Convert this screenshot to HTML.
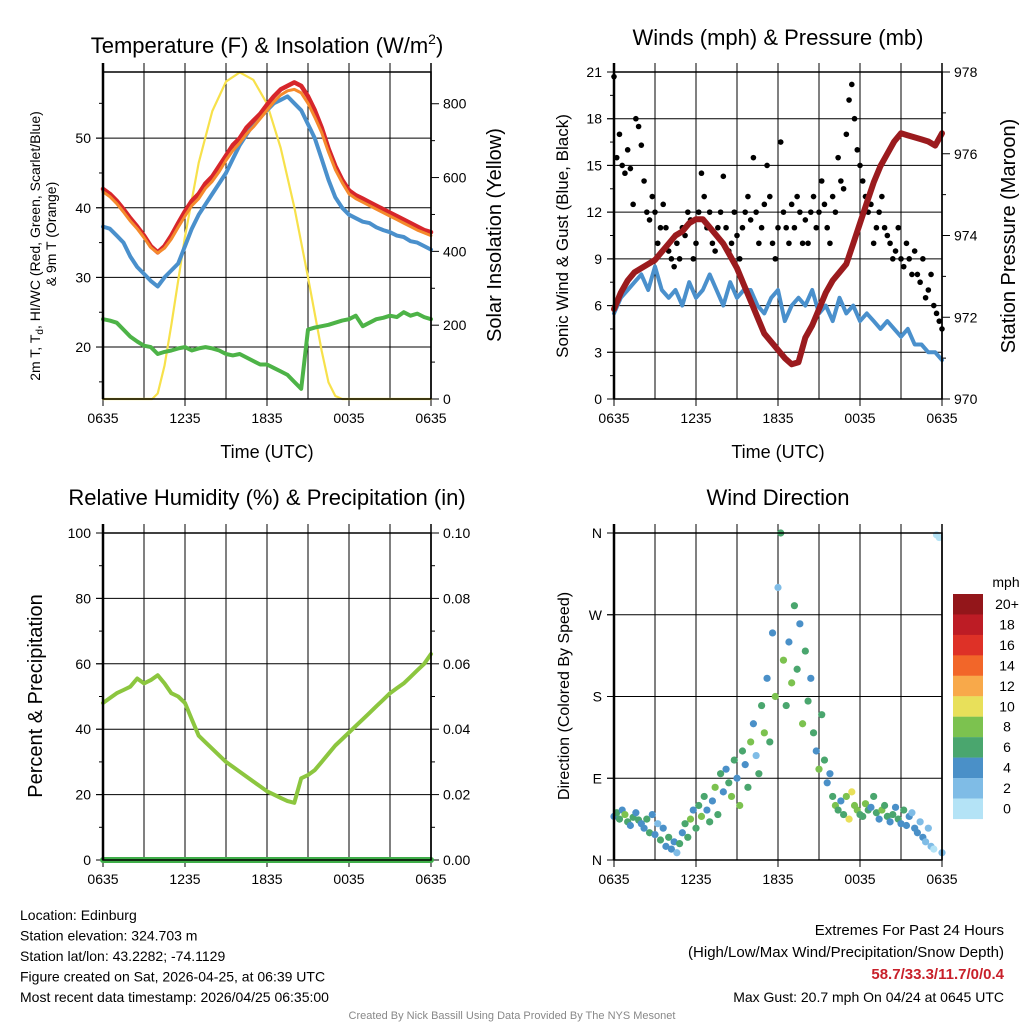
<!DOCTYPE html>
<html><head><meta charset="utf-8"><style>
body{margin:0;background:#fff;width:1024px;height:1024px;overflow:hidden;font-family:"Liberation Sans",sans-serif}
svg text{font-family:"Liberation Sans",sans-serif;fill:#000}
</style></head><body>
<svg id="s" width="1024" height="1024" viewBox="0 0 1024 1024" xmlns="http://www.w3.org/2000/svg"></svg>
<script>
// ---------- data ----------
const timeLabels = ["0635","1235","1835","0035","0635"];
const tempTicks = [20,30,40,50];
const solTicks = [0,200,400,600,800];
const windTicks = [0,3,6,9,12,15,18,21];
const presTicks = [970,972,974,976,978];
const rhTicks = [0,20,40,60,80,100];
const precTicks = ["0.00","0.02","0.04","0.06","0.08","0.10"];
const dirTicks = ["N","E","S","W","N"];
// half-hourly series (0..24h)
const tempRed = [42.7,42,41,39.8,38.5,37.3,36,34.5,33.6,34.5,36,37.8,39.5,41,42,43.5,44.5,46,47.5,49,50,51.5,52.5,53.5,54.8,56,57,57.5,58,57.5,56,54,51.5,48.5,46,44,42.5,41.8,41.3,40.8,40.3,39.8,39.3,38.8,38.3,37.8,37.3,36.8,36.5];
const tempOrange = [42.3,41.6,40.6,39.4,38.1,37,35.7,34.3,33.5,34.2,35.5,37.2,38.8,40.3,41.3,42.8,43.8,45.2,46.8,48.2,49.3,50.6,51.6,52.8,54,55.2,56.2,56.8,57,56.5,55,53,50.8,48,45.5,43.6,42,41.3,40.8,40.3,39.8,39.3,38.8,38.3,37.8,37.3,36.8,36.4,36];
const tempBlue = [37.3,37,36,35,33,31.5,30.5,29.5,28.7,30,31,32,34.5,37,39,40.5,42,43.5,45,47,49,50.5,52,53,54,55,55.5,56,55,54,52,50,47,44,41.5,40,39,38.5,38,37.8,37.2,36.8,36.5,36,35.8,35.2,35,34.5,34];
const dewGreen = [24,23.8,23.5,22.5,21.5,20.8,20.2,20,19,19.3,19.5,19.8,20,19.5,19.8,20,19.8,19.5,19,18.8,19,18.5,18,17.5,17.5,17,16.5,16,15,14,22.5,22.8,23,23.2,23.5,23.8,24,24.5,23,23.5,24,24.2,24.5,24.3,25,24.5,24.8,24.3,24];
const solHours = [0,3.6,4,4.5,5,6,7,8,9,10,11,12,13,14,15,16,16.5,17,17.5,24];
const solValues = [0,0,15,90,200,440,640,780,860,885,865,800,680,520,330,130,45,8,0,0];
const windBlue = [5.5,6.5,7,7.5,8,7,8.5,7,6.5,7,6,7.5,6.5,7,8,7,6,7.5,6.5,7,7,6,5.5,6.5,7,5,6,6.5,6,7,5.5,6,5,6.5,5.5,6,5,5.5,5,4.5,5,4.5,4,4.5,3.5,3.5,3,3,2.5];
const pressure = [972.2,972.6,972.9,973.1,973.2,973.3,973.4,973.6,973.8,974,974.1,974.3,974.4,974.4,974.2,974,973.8,973.5,973.2,972.8,972.4,972,971.6,971.4,971.2,971,970.85,970.9,971.5,971.8,972.2,972.6,972.9,973.1,973.3,973.8,974.3,974.8,975.3,975.7,976,976.3,976.5,976.45,976.4,976.35,976.3,976.2,976.5];
const rh = [48,49.5,51,52,53,55.5,54,55,56.5,54,51,50,48,43,38,36,34,32,30,28.5,27,25.5,24,22.5,21,20,19,18,17.5,25,26,27.5,30,32.5,35,37,39,41,43,45,47,49,51,52.5,54,56,58,60,63];
const precip = [0,0,0,0,0,0,0,0,0,0,0,0,0,0,0,0,0,0,0,0,0,0,0,0,0];
// 12-minute series (121 points)
const gust = [20.7,15.5,17,15,14.5,16,14.8,12.5,18,17.5,16.3,14,12,11.5,13,12,10,11,12.5,11,9.5,9,8.5,10,9,11,10.5,12,11.5,9,10,12,14.5,13,11,12,10,9.5,11,12,14.3,11,9.5,10,12,10.5,9,11,12,13,11.5,15.5,12,10,11,12.5,15,13,10,9,11,16.5,12,11,10,12.5,11,13,12,10,11.5,10,12,13,11,12,14,12.5,11,10,13,12,15.5,14,13.5,17,19.2,20.2,18,16,15,14,13,12,12.5,10,11,12,13,11,10.5,10,9,9.5,11,9,8.5,10,9,8,9.5,8,7.5,9,6.5,7,8,6,5.5,5,4.5];
const windDir = [48,52,45,55,50,42,38,47,52,44,40,35,45,30,50,28,40,22,35,15,25,12,20,8,18,30,40,25,45,55,35,60,48,70,55,42,65,80,50,95,75,100,85,70,110,90,60,120,105,80,130,150,115,95,170,140,200,130,250,180,300,360,220,170,240,195,280,210,260,150,230,175,200,140,120,100,160,110,85,95,70,60,55,65,50,70,45,75,60,55,50,48,62,55,58,70,52,45,55,60,48,42,50,58,45,40,55,38,48,52,35,30,42,25,20,35,15,12,358,355,8];
const dirSpeed = [5,6,7,5,9,6,4,7,5,6,4,5,7,6,4,5,3,6,4,5,7,5,4,3,6,5,7,6,8,5,6,7,9,6,4,7,5,8,6,7,5,4,6,8,7,5,9,6,4,7,8,5,3,7,6,8,5,7,4,9,3,6,8,7,5,9,6,7,5,8,6,7,4,6,5,8,7,6,4,5,7,8,6,5,7,9,10,11,9,8,6,7,8,6,5,7,6,5,8,6,7,5,6,4,7,5,6,4,5,3,4,5,3,4,3,2,3,1,1,1,2];
const cbLabels = ["20+","18","16","14","12","10","8","6","4","2","0"];
const cbColors = ["#93161a","#bd1c25","#de3127","#f26629","#f8a94a","#e8e05a","#7cc24f","#4aa66e","#4a90c8","#7fbce6","#b4e3f6"];

// ---------- helpers ----------
const S=document.getElementById('s'),NS='http://www.w3.org/2000/svg';
function el(t,a,txt,parent){const e=document.createElementNS(NS,t);for(const k in a)e.setAttribute(k,a[k]);if(txt!==undefined)e.textContent=txt;(parent||S).appendChild(e);return e;}
const P={t:{x0:103,x1:431,y0:72,y1:399},w:{x0:614,x1:942,y0:72,y1:399},r:{x0:103,x1:431,y0:533,y1:860},d:{x0:614,x1:942,y0:533,y1:860}};
const xs=(p,h)=>p.x0+h/24*(p.x1-p.x0);
const lin=(p,v,a,b)=>p.y1-(v-a)/(b-a)*(p.y1-p.y0);
const yT=v=>lin(P.t,v,12.54,59.5), yS=v=>lin(P.t,v,0,886);
const yW=v=>lin(P.w,v,0,21), yP=v=>lin(P.w,v,970,978);
const yR=v=>lin(P.r,v,0,100), yPr=v=>lin(P.r,v,0,0.10);
const yD=v=>lin(P.d,v,0,360);
function spd(s){const i=Math.min(10,Math.floor(s/2));return cbColors[10-i];}
function frame(p,name){
  for(let i=1;i<8;i++){const x=p.x0+i*(p.x1-p.x0)/8;
    const g=el('line',{x1:x,x2:x,y1:p.y0-9,y2:p.y1,stroke:'#000','stroke-width':1});
    }
  timeLabels.forEach((l,i)=>{const x=p.x0+i*(p.x1-p.x0)/4;
    el('line',{x1:x,x2:x,y1:p.y1,y2:p.y1+7,stroke:'#000'});
    const t=el('text',{x:x,y:p.y1+24,'font-size':14,'text-anchor':'middle'},l);
    });
}
function box(p,name){const r=el('rect',{x:p.x0,y:p.y0,width:p.x1-p.x0,height:p.y1-p.y0,fill:'none',stroke:'#000','stroke-width':1.5});
  
  el('line',{x1:p.x0,x2:p.x0,y1:p.y0-9,y2:p.y1,stroke:'#000','stroke-width':2.5});
  el('line',{x1:p.x1,x2:p.x1,y1:p.y0-9,y2:p.y1,stroke:'#000','stroke-width':1.5});}
function hgrid(p,y){el('line',{x1:p.x0-7,x2:p.x1,y1:y,y2:y,stroke:'#000','stroke-width':1});}
function ltick(p,y,lab){el('line',{x1:p.x0-7,x2:p.x0,y1:y,y2:y,stroke:'#000'});
  const t=el('text',{x:p.x0-12,y:y+5,'font-size':14,'text-anchor':'end'},lab);
  }
function rtick(p,y,lab,minor){el('line',{x1:p.x1,x2:p.x1+(minor?4:8),y1:y,y2:y,stroke:'#000'});
  if(lab!==undefined){const t=el('text',{x:p.x1+12,y:y+5,'font-size':14},lab);
  }}
function line(pts,col,w,name){const e=el('polyline',{points:pts.map(p=>p[0].toFixed(1)+','+p[1].toFixed(1)).join(' '),fill:'none',stroke:col,'stroke-width':w,'stroke-linejoin':'round','stroke-linecap':'round'});
  }
function txt(x,y,s,sz,anc,rot,name,extra){const a={x:x,y:y,'font-size':sz,'text-anchor':anc||'start'};if(rot)a.transform='rotate(-90 '+x+' '+y+')';Object.assign(a,extra||{});
  const t=el('text',a,s);return t;}
const half=(arr,p,f)=>arr.map((v,i)=>[xs(p,i*24/(arr.length-1)),f(v)]);

// ---------- panel 1 ----------
let p=P.t;
frame(p,'temp');
tempTicks.forEach(v=>{hgrid(p,yT(v));ltick(p,yT(v),v);});
[15,25,35,45,55].forEach(v=>el('line',{x1:p.x0-4,x2:p.x0,y1:yT(v),y2:yT(v),stroke:'#000'}));
solTicks.forEach(v=>rtick(p,yS(v),v));
[100,300,500,700].forEach(v=>rtick(p,yS(v),undefined,true));
line(solHours.map((h,i)=>[xs(p,h),yS(solValues[i])]),'#f7e14b',2.2,'insolation-line');
line(half(dewGreen,p,yT),'#4db347',4,'dewpoint-line');
line(half(tempBlue,p,yT),'#4a90cc',4,'windchill-line');
line(half(tempRed,p,yT),'#d7262b',4.5,'temperature-line');
line(half(tempOrange,p,yT),'#f58a2c',3,'temp-9m-line');
box(p,'temp');
{const t=txt(267,53,'',22,'middle',false,'temp-chart-title');
 el('tspan',{},'Temperature (F) & Insolation (W/m',t);
 el('tspan',{'font-size':14,dy:-9},'2',t);
 el('tspan',{dy:9},')',t);}
txt(267,458,'Time (UTC)',18,'middle',false,'x-axis-title');
{const t=txt(40,246,'',14,'middle',true,'temp-y-axis-title');
 el('tspan',{},'2m T, T',t);
 el('tspan',{'font-size':10,dy:3},'d',t);
 el('tspan',{dy:-3},', HI/WC (Red, Green, Scarlet/Blue)',t);}
txt(56,234,'& 9m T (Orange)',14,'middle',true,'temp-y-axis-title-2');
txt(501,235,'Solar Insolation (Yellow)',20,'middle',true,'solar-axis-title');

// ---------- panel 2 ----------
p=P.w;
frame(p,'wind');
windTicks.forEach(v=>{if(v>0&&v<21)hgrid(p,yW(v));ltick(p,yW(v),v);});
[1.5,4.5,7.5,10.5,13.5,16.5,19.5].forEach(v=>el('line',{x1:p.x0-4,x2:p.x0,y1:yW(v),y2:yW(v),stroke:'#000'}));
presTicks.forEach(v=>rtick(p,yP(v),v));
[971,973,975,977].forEach(v=>rtick(p,yP(v),undefined,true));
line(half(windBlue,p,yW),'#4a90cc',4,'sonic-wind-line');
gust.forEach((v,i)=>{const c=el('circle',{cx:xs(p,i*0.2),cy:yW(v),r:2.8,fill:'#000'});
  });
line(half(pressure,p,yP),'#9b1b1e',6,'pressure-line');
box(p,'wind');
txt(778,45,'Winds (mph) & Pressure (mb)',22,'middle',false,'wind-chart-title');
txt(778,458,'Time (UTC)',18,'middle',false,'x-axis-title-2');
txt(568,236,'Sonic Wind & Gust (Blue, Black)',17,'middle',true,'wind-axis-title');
txt(1015,236,'Station Pressure (Maroon)',20,'middle',true,'pressure-axis-title');

// ---------- panel 3 ----------
p=P.r;
frame(p,'rh');
rhTicks.forEach((v,i)=>{if(v>0)hgrid(p,yR(v));ltick(p,yR(v),v);rtick(p,yR(v),precTicks[i]);});
[10,30,50,70,90].forEach(v=>{el('line',{x1:p.x0-4,x2:p.x0,y1:yR(v),y2:yR(v),stroke:'#000'});rtick(p,yR(v),undefined,true);});
line(half(rh,p,yR),'#8cc63f',4,'rh-line');
line(half(precip,p,yPr),'#3fae49',6,'precip-line');
box(p,'rh');
txt(267,505,'Relative Humidity (%) & Precipitation (in)',22,'middle',false,'rh-chart-title');
txt(42,696,'Percent & Precipitation',20,'middle',true,'rh-y-axis-title');

// ---------- panel 4 ----------
p=P.d;
frame(p,'dir');
dirTicks.forEach((l,i)=>{const y=yD(i*90);if(i>0&&i<4)hgrid(p,y);ltick(p,y,l);});
windDir.forEach((v,i)=>{const c=el('circle',{cx:xs(p,i*0.2),cy:yD(v),r:3.6,fill:spd(dirSpeed[i])});
  });
box(p,'dir');
txt(778,505,'Wind Direction',22,'middle',false,'dir-chart-title');
txt(569,696,'Direction (Colored By Speed)',16,'middle',true,'dir-y-axis-title');
txt(1006,587,'mph',14,'middle',false,'colorbar-title');
cbColors.forEach((c,i)=>{const r=el('rect',{x:953,y:594+i*20.45,width:30,height:20.6,fill:c});
  
  txt(1007,609+i*20.45,cbLabels[i],14,'middle',false,'colorbar-label');});

// ---------- footer ----------
const leftInfo=["Location: Edinburg","Station elevation: 324.703 m","Station lat/lon: 43.2282; -74.1129","Figure created on Sat, 2026-04-25, at 06:39 UTC","Most recent data timestamp: 2026/04/25 06:35:00"];
leftInfo.forEach((s,i)=>txt(20,920+i*20.5,s,14,'start',false,'station-info-line'));
txt(1004,935,'Extremes For Past 24 Hours',15,'end',false,'extremes-title');
txt(1004,957,'(High/Low/Max Wind/Precipitation/Snow Depth)',15,'end',false,'extremes-subtitle');
txt(1004,979,'58.7/33.3/11.7/0/0.4',15,'end',false,'extremes-values',{style:'fill:#c8202a;font-weight:bold'});
txt(1004,1002,'Max Gust: 20.7 mph On 04/24 at 0645 UTC',14,'end',false,'max-gust');
txt(512,1019,'Created By Nick Bassill Using Data Provided By The NYS Mesonet',11,'middle',false,'credit',{style:'fill:#888'});
</script>
</body></html>
